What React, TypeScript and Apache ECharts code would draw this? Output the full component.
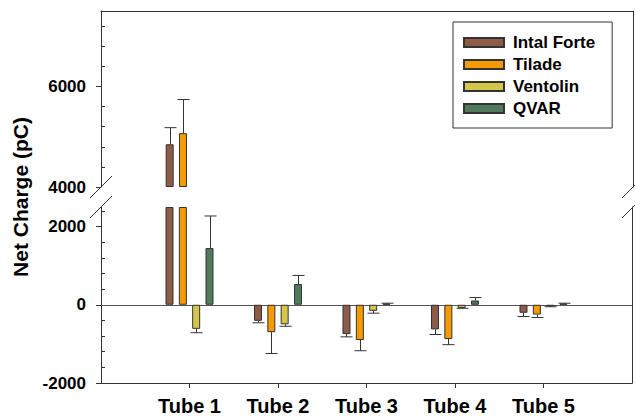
import React, { useEffect, useRef } from "react";
import * as echarts from "echarts";

const categories = ["Tube 1", "Tube 2", "Tube 3", "Tube 4", "Tube 5"];
const drugs = ["Intal Forte", "Tilade", "Ventolin", "QVAR"];
const intal = [4850, -410, -750, -630, -205];
const intalErr = [330, 50, 70, 130, 95];
const tilade = [5070, -700, -900, -875, -250];
const tiladeErr = [670, 545, 275, 145, 75];
const ventolin = [-615, -500, -155, -80, -40];
const ventolinErr = [100, 50, 60, 10, 10];
const qvar = [1450, 530, 30, 110, 30];
const qvarErr = [820, 220, 10, 75, 10];

const upperMin = 4000;
const upperMax = 7500;
const lowerMin = -2000;
const lowerMax = 2500;
const upperMajor = [4000, 6000];
const lowerMajor = [-2000, 0, 2000];
const minorStep = 400;

const values = [intal, tilade, ventolin, qvar];
const errors = [intalErr, tiladeErr, ventolinErr, qvarErr];
const colors = ["#8E5B48", "#F59A00", "#D3C64B", "#507A5B"];

const FONT = "'Liberation Sans', Arial, sans-serif";
const LINE = "#333";
const BAR_W = 8;
const BAR_GAP = 0.667;

function minorTicks(min: number, max: number, major: number[]) {
  const out: number[] = [];
  for (let v = min; v <= max; v += minorStep) {
    if (!major.includes(v)) out.push(v);
  }
  return out;
}

export default function App() {
  const ref = useRef<HTMLDivElement>(null);
  useEffect(() => {
    if (!ref.current) return;
    const chart = echarts.init(ref.current, null, { renderer: "svg" });
    const axisCats = ["", ...categories, ""];

    const series: any[] = [];
    const step = BAR_W * (1 + BAR_GAP);
    drugs.forEach((name, i) => {
      const vals = values[i];
      const errs = errors[i];
      series.push({
        type: "bar",
        name: name + " base",
        xAxisIndex: 0,
        yAxisIndex: 0,
        stack: "s" + i,
        barWidth: BAR_W,
        barGap: BAR_GAP * 100 + "%",
        itemStyle: { color: "transparent", borderWidth: 0 },
        silent: true,
        data: ["-", ...vals.map((v) => (v > upperMin ? upperMin : "-")), "-"],
      });
      series.push({
        type: "bar",
        name,
        xAxisIndex: 0,
        yAxisIndex: 0,
        stack: "s" + i,
        barWidth: BAR_W,
        barGap: BAR_GAP * 100 + "%",
        itemStyle: { color: colors[i], borderColor: LINE, borderWidth: 1 },
        data: ["-", ...vals.map((v) => (v > upperMin ? v - upperMin : "-")), "-"],
      });
      const lower: any = {
        type: "bar",
        name,
        xAxisIndex: 1,
        yAxisIndex: 3,
        barWidth: BAR_W,
        barGap: BAR_GAP * 100 + "%",
        itemStyle: { color: colors[i], borderColor: LINE, borderWidth: 1 },
        data: ["-", ...vals.map((v) => Math.min(v, lowerMax)), "-"],
        z: 3,
      };
      if (i === 0) {
        lower.markLine = {
          silent: true,
          symbol: "none",
          label: { show: false },
          lineStyle: { color: "#555", width: 1, type: "solid" },
          data: [{ yAxis: 0 }],
          z: 1,
        };
      }
      series.push(lower);

      const offset = (i - 1.5) * step;
      const renderErr = (params: any, api: any) => {
        const idx = api.value(0);
        const v = api.value(1);
        const e = api.value(2);
        const sign = v >= 0 ? 1 : -1;
        const p0 = api.coord([idx, v]);
        const p1 = api.coord([idx, v + sign * e]);
        const x = Math.round(p0[0] + offset) + 0.5;
        const style = { stroke: LINE, lineWidth: 1, fill: null };
        return {
          type: "group",
          children: [
            { type: "line", shape: { x1: x, y1: p0[1], x2: x, y2: p1[1] }, style },
            { type: "line", shape: { x1: x - 6, y1: p1[1], x2: x + 6, y2: p1[1] }, style },
          ],
        };
      };
      const upperErrData: any[] = [];
      const lowerErrData: any[] = [];
      vals.forEach((v, k) => {
        if (v > upperMin) upperErrData.push([k + 1, v, errs[k]]);
        else if (v < lowerMax) lowerErrData.push([k + 1, v, errs[k]]);
      });
      series.push({
        type: "custom",
        name: name + " err up",
        xAxisIndex: 0,
        yAxisIndex: 0,
        renderItem: renderErr,
        encode: { x: 0, y: 1 },
        data: upperErrData,
        z: 4,
        clip: true,
      });
      series.push({
        type: "custom",
        name: name + " err low",
        xAxisIndex: 1,
        yAxisIndex: 3,
        renderItem: renderErr,
        encode: { x: 0, y: 1 },
        data: lowerErrData,
        z: 4,
        clip: true,
      });
    });

    const tickLabel = {
      fontFamily: FONT,
      fontWeight: "bold",
      fontSize: 17,
      color: "#000",
      margin: 15,
      formatter: (v: number) => String(v),
    };

    const option: any = {
      animation: false,
      grid: [
        { left: 101, right: 2, top: 11, height: 176 },
        { left: 101, right: 2, top: 207, height: 176 },
      ],
      legend: {
        data: drugs,
        orient: "vertical",
        left: 453,
        top: 22,
        icon: "rect",
        itemWidth: 40,
        itemHeight: 9,
        itemGap: 5,
        padding: [12, 17, 11, 10],
        borderColor: LINE,
        borderWidth: 1,
        backgroundColor: "#fff",
        textStyle: { fontFamily: FONT, fontWeight: "bold", fontSize: 17, color: "#000", lineHeight: 17, padding: [0, 0, 0, 4] },
        selectedMode: false,
      },
      xAxis: [
        {
          type: "category",
          gridIndex: 0,
          data: axisCats,
          boundaryGap: false,
          position: "top",
          axisLine: { show: true, lineStyle: { color: LINE, width: 1 } },
          axisTick: { show: false },
          axisLabel: { show: false },
          splitLine: { show: false },
        },
        {
          type: "category",
          gridIndex: 1,
          data: axisCats,
          boundaryGap: false,
          position: "bottom",
          axisLine: { show: true, onZero: false, lineStyle: { color: LINE, width: 1 } },
          axisTick: {
            show: true,
            length: 5,
            interval: (i: number) => i >= 1 && i <= categories.length,
            lineStyle: { color: LINE },
          },
          axisLabel: {
            show: true,
            interval: 0,
            fontFamily: FONT,
            fontWeight: "bold",
            fontSize: 20,
            color: "#000",
            margin: 13,
          },
          splitLine: { show: false },
        },
      ],
      yAxis: [
        {
          type: "value",
          gridIndex: 0,
          position: "left",
          min: upperMin,
          max: upperMax,
          axisLine: { show: true, lineStyle: { color: LINE } },
          axisTick: { show: true, length: 5, customValues: upperMajor, lineStyle: { color: LINE } },
          axisLabel: { ...tickLabel, customValues: upperMajor },
          splitLine: { show: false },
        },
        {
          type: "value",
          gridIndex: 0,
          position: "left",
          min: upperMin,
          max: upperMax,
          axisLine: { show: false },
          axisTick: { show: true, inside: true, length: 4, customValues: minorTicks(upperMin, upperMax, upperMajor), lineStyle: { color: LINE } },
          axisLabel: { show: false },
          splitLine: { show: false },
        },
        {
          type: "value",
          gridIndex: 0,
          position: "right",
          min: upperMin,
          max: upperMax,
          axisLine: { show: true, lineStyle: { color: LINE } },
          axisTick: { show: false },
          axisLabel: { show: false },
          splitLine: { show: false },
        },
        {
          type: "value",
          gridIndex: 1,
          position: "left",
          min: lowerMin,
          max: lowerMax,
          axisLine: { show: true, lineStyle: { color: LINE } },
          axisTick: { show: true, length: 5, customValues: lowerMajor, lineStyle: { color: LINE } },
          axisLabel: { ...tickLabel, customValues: lowerMajor },
          splitLine: { show: false },
        },
        {
          type: "value",
          gridIndex: 1,
          position: "left",
          min: lowerMin,
          max: lowerMax,
          axisLine: { show: false },
          axisTick: { show: true, inside: true, length: 4, customValues: minorTicks(lowerMin, lowerMax, lowerMajor), lineStyle: { color: LINE } },
          axisLabel: { show: false },
          splitLine: { show: false },
        },
        {
          type: "value",
          gridIndex: 1,
          position: "right",
          min: lowerMin,
          max: lowerMax,
          axisLine: { show: true, lineStyle: { color: LINE } },
          axisTick: { show: false },
          axisLabel: { show: false },
          splitLine: { show: false },
        },
      ],
      graphic: [
        {
          type: "text",
          x: 20,
          y: 197,
          rotation: Math.PI / 2,
          style: {
            text: "Net Charge (pC)",
            fontFamily: FONT,
            fontWeight: "bold",
            fontSize: 21,
            fill: "#000",
            textAlign: "center",
            textVerticalAlign: "middle",
          },
        },
        { type: "line", shape: { x1: 90, y1: 198, x2: 112, y2: 176 }, style: { stroke: LINE, lineWidth: 1 } },
        { type: "line", shape: { x1: 90, y1: 218, x2: 112, y2: 196 }, style: { stroke: LINE, lineWidth: 1 } },
        { type: "line", shape: { x1: 622, y1: 198, x2: 644, y2: 176 }, style: { stroke: LINE, lineWidth: 1 } },
        { type: "line", shape: { x1: 622, y1: 218, x2: 644, y2: 196 }, style: { stroke: LINE, lineWidth: 1 } },
      ],
      series,
    };
    chart.setOption(option);
    return () => chart.dispose();
  }, []);
  return (
    <div
      ref={ref}
      style={{ position: "fixed", left: 0, top: 0, width: 635, height: 416, background: "#fff" }}
    />
  );
}
